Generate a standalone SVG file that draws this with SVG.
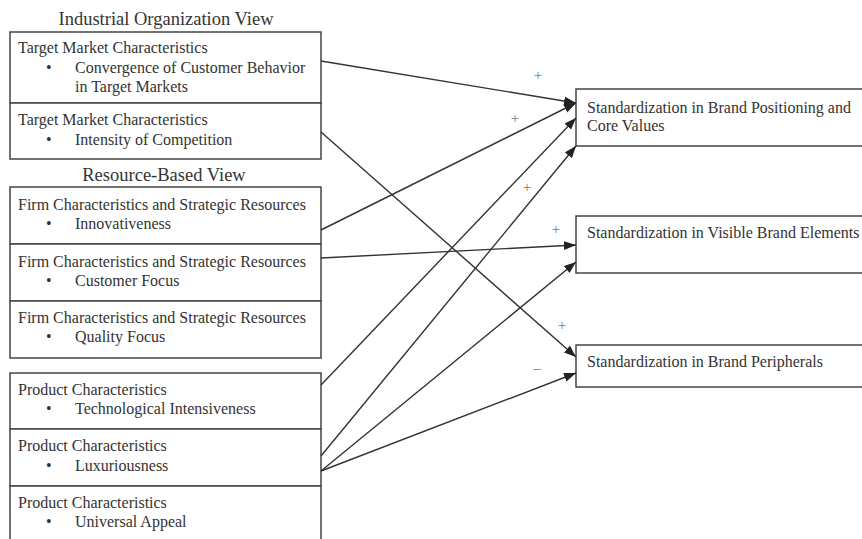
<svg xmlns="http://www.w3.org/2000/svg" width="862" height="539" viewBox="0 0 862 539">
<defs>
<style>
.box{fill:#fff;stroke:#444;stroke-width:1.5}
.t{font-family:"Liberation Serif","Times New Roman",serif;font-size:16px;fill:#333}
.h{font-family:"Liberation Serif","Times New Roman",serif;font-size:18.5px;fill:#333;text-anchor:middle}
.s{font-family:"Liberation Serif","Times New Roman",serif;font-size:15px;fill:#777;text-anchor:middle}
.c{stroke:#333;stroke-width:1.4;fill:none;marker-end:url(#ah)}
</style>
<marker id="ah" markerUnits="userSpaceOnUse" markerWidth="13" markerHeight="10" refX="12" refY="4.5" orient="auto">
<path d="M0,0 L12,4.5 L0,9 z" fill="#222"/>
</marker>
</defs>
<rect width="862" height="539" fill="#fff"/>
<text class="h" x="166" y="25">Industrial Organization View</text>
<text class="h" x="164" y="181">Resource-Based View</text>

<g id="io1">
<rect class="box" x="10" y="32" width="311" height="71"/>
<text class="t" x="18" y="53">Target Market Characteristics</text>
<text class="t" x="46" y="73">•</text>
<text class="t" x="75" y="73">Convergence of Customer Behavior</text>
<text class="t" x="75" y="92">in Target Markets</text>
</g>
<g id="io2">
<rect class="box" x="10" y="103" width="311" height="56"/>
<text class="t" x="18" y="125">Target Market Characteristics</text>
<text class="t" x="46" y="145">•</text>
<text class="t" x="75" y="145">Intensity of Competition</text>
</g>
<g id="rb1">
<rect class="box" x="10" y="187" width="311" height="57"/>
<text class="t" x="18" y="210">Firm Characteristics and Strategic Resources</text>
<text class="t" x="46" y="229">•</text>
<text class="t" x="75" y="229">Innovativeness</text>
</g>
<g id="rb2">
<rect class="box" x="10" y="244" width="311" height="57"/>
<text class="t" x="18" y="267">Firm Characteristics and Strategic Resources</text>
<text class="t" x="46" y="286">•</text>
<text class="t" x="75" y="286">Customer Focus</text>
</g>
<g id="rb3">
<rect class="box" x="10" y="301" width="311" height="57"/>
<text class="t" x="18" y="323">Firm Characteristics and Strategic Resources</text>
<text class="t" x="46" y="342">•</text>
<text class="t" x="75" y="342">Quality Focus</text>
</g>
<g id="p1">
<rect class="box" x="10" y="373" width="311" height="56"/>
<text class="t" x="18" y="395">Product Characteristics</text>
<text class="t" x="46" y="414">•</text>
<text class="t" x="75" y="414">Technological Intensiveness</text>
</g>
<g id="p2">
<rect class="box" x="10" y="429" width="311" height="57"/>
<text class="t" x="18" y="451">Product Characteristics</text>
<text class="t" x="46" y="471">•</text>
<text class="t" x="75" y="471">Luxuriousness</text>
</g>
<g id="p3">
<rect class="box" x="10" y="486" width="311" height="60"/>
<text class="t" x="18" y="508">Product Characteristics</text>
<text class="t" x="46" y="527">•</text>
<text class="t" x="75" y="527">Universal Appeal</text>
</g>

<g id="r1">
<rect class="box" x="576" y="89" width="294" height="57"/>
<text class="t" x="587" y="113">Standardization in Brand Positioning and</text>
<text class="t" x="587" y="131">Core Values</text>
</g>
<g id="r2">
<rect class="box" x="576" y="216" width="294" height="57"/>
<text class="t" x="587" y="238">Standardization in Visible Brand Elements</text>
</g>
<g id="r3">
<rect class="box" x="576" y="345" width="294" height="42"/>
<text class="t" x="587" y="367">Standardization in Brand Peripherals</text>
</g>

<g id="connectors">
<line class="c" x1="321" y1="61" x2="576" y2="103"/>
<line class="c" x1="321" y1="132" x2="576" y2="357"/>
<line class="c" x1="321" y1="230" x2="576" y2="103"/>
<line class="c" x1="321" y1="258" x2="576" y2="245"/>
<line class="c" x1="321" y1="385" x2="576" y2="118"/>
<line class="c" x1="321" y1="456" x2="576" y2="146"/>
<line class="c" x1="321" y1="471" x2="576" y2="262"/>
<line class="c" x1="321" y1="471" x2="576" y2="373"/>
<text class="s" x="538" y="80">+</text>
<text class="s" x="515" y="123">+</text>
<text class="s" x="527" y="192">+</text>
<text class="s" x="556" y="234">+</text>
<text class="s" x="562" y="330">+</text>
<text class="s" x="537" y="373">–</text>
</g>
</svg>
